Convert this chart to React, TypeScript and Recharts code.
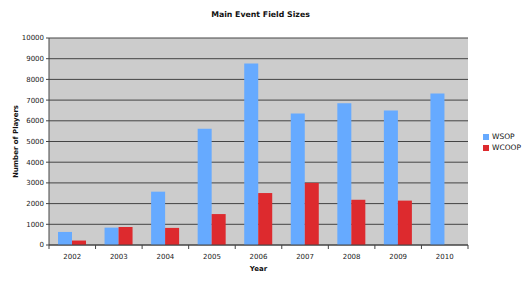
import { Bar, BarChart, CartesianGrid, XAxis, YAxis } from 'recharts';

const years = ['2002', '2003', '2004', '2005', '2006', '2007', '2008', '2009', '2010'];
const wsop = [631, 839, 2576, 5619, 8773, 6358, 6844, 6494, 7319];
const wcoop = [215, 870, 826, 1494, 2510, 3000, 2185, 2144, null];
const yTicks = [0, 1000, 2000, 3000, 4000, 5000, 6000, 7000, 8000, 9000, 10000];

const FONT = '"DejaVu Sans", Verdana, sans-serif';
const BLUE = '#66aaff';
const RED = '#dd2a2e';
const PLOT_W = 530 - 49 - 62;

// year label plus a tick mark on the left edge of each category (and the last right edge)
function YearTick(props: any) {
  const { x, y, payload, index } = props;
  const bw = PLOT_W / years.length;
  return (
    <g>
      <line x1={x - bw / 2} x2={x - bw / 2} y1={y - 8} y2={y - 4} stroke="#444" />
      {index === years.length - 1 && (
        <line x1={x + bw / 2} x2={x + bw / 2} y1={y - 8} y2={y - 4} stroke="#444" />
      )}
      <text x={x} y={y + 6} textAnchor="middle" fill="#222" fontSize={7} fontFamily={FONT}>
        {payload.value}
      </text>
    </g>
  );
}

export default function App() {
  const data = years.map((y, i) => ({ year: y, WSOP: wsop[i], WCOOP: wcoop[i] }));
  return (
    <div style={{ position: 'absolute', left: 0, top: 0, width: 530, height: 282, background: '#fff', fontFamily: FONT }}>
      <div
        style={{
          position: 'absolute',
          left: 0,
          width: 521,
          top: 10,
          textAlign: 'center',
          fontSize: 7.8,
          fontWeight: 'bold',
          color: '#111'
        }}
      >
        Main Event Field Sizes
      </div>
      <BarChart
        width={530}
        height={282}
        data={data}
        margin={{ top: 38, right: 62, left: 0, bottom: 0 }}
        barGap={0}
        barSize={14}
      >
        <CartesianGrid vertical={false} stroke="#444" fill="#cccccc" />
        <XAxis
          dataKey="year"
          height={37}
          tick={<YearTick />}
          tickLine={false}
          axisLine={{ stroke: '#444' }}
          label={{
            value: 'Year',
            position: 'insideBottom',
            offset: 11,
            style: { fill: '#111', fontSize: 7, fontWeight: 'bold', fontFamily: FONT }
          }}
        />
        <YAxis
          width={49}
          domain={[0, 10000]}
          ticks={yTicks}
          interval={0}
          tick={{ fill: '#222', fontSize: 7, fontFamily: FONT }}
          tickSize={3}
          tickLine={{ stroke: '#444' }}
          axisLine={{ stroke: '#444' }}
          label={{
            value: 'Number of Players',
            angle: -90,
            position: 'insideLeft',
            offset: 16,
            style: { textAnchor: 'middle', fill: '#111', fontSize: 7, fontWeight: 'bold', fontFamily: FONT }
          }}
        />
        <Bar dataKey="WSOP" fill={BLUE} isAnimationActive={false} />
        <Bar dataKey="WCOOP" fill={RED} isAnimationActive={false} />
      </BarChart>
      <div style={{ position: 'absolute', left: 483, top: 131, fontSize: 7.5, color: '#111', lineHeight: '11px' }}>
        <div style={{ display: 'flex', alignItems: 'center' }}>
          <span style={{ width: 6, height: 6, background: BLUE, marginRight: 3, display: 'inline-block' }} />
          WSOP
        </div>
        <div style={{ display: 'flex', alignItems: 'center' }}>
          <span style={{ width: 6, height: 6, background: RED, marginRight: 3, display: 'inline-block' }} />
          WCOOP
        </div>
      </div>
    </div>
  );
}
